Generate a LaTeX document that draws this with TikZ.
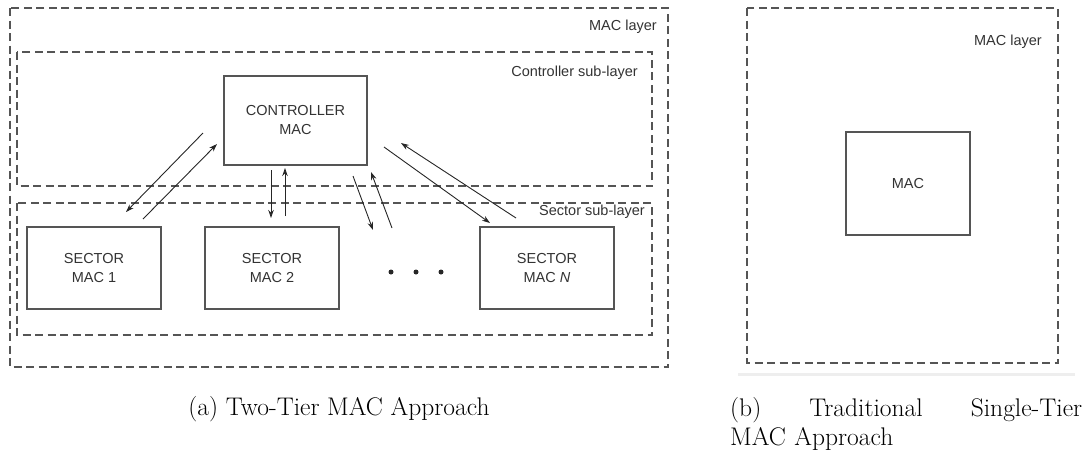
\documentclass[tikz,border=0pt]{standalone}
\usepackage{fontspec}
\setsansfont{Liberation Sans}
\usetikzlibrary{arrows.meta}
\definecolor{linegray}{HTML}{555555}
\definecolor{txtgray}{HTML}{333333}
\definecolor{rulegray}{HTML}{EEEEEE}
\tikzset{
  layerbox/.style={draw=linegray, line width=1.4pt, dash pattern=on 8pt off 4.5pt},
  macbox/.style={draw=linegray, line width=1.2pt, fill=white, inner sep=0pt},
  lbl/.style={font=\sffamily\fontsize{14.5}{16}\selectfont, text=txtgray, inner sep=0pt},
  boxtxt/.style={font=\sffamily\fontsize{14.5}{19}\selectfont, text=txtgray, align=center},
  link/.style={draw=black!85, line width=0.9pt, -{Stealth[length=8pt,width=5.5pt]}},
  capt/.style={font=\fontsize{25.5}{29}\selectfont, inner sep=0pt, anchor=base west},
  dotstyle/.style={circle, fill=black!85, inner sep=0pt, minimum size=5pt}
}
\begin{document}
\begin{tikzpicture}[x=1pt,y=-1pt]
\useasboundingbox (0,0) rectangle (1088,451);
% (a) layers
\draw[layerbox] (10,8) rectangle (668,367);
\node[lbl, anchor=east] (maclayerA) at (657,27) {MAC layer};
\draw[layerbox] (17,52) rectangle (652,186);
\node[lbl, anchor=east] (ctrllayer) at (638,73) {Controller sub-layer};
\draw[layerbox] (17,203) rectangle (652,335);
\node[lbl, anchor=east] (seclayer) at (645,212) {Sector sub-layer};
% boxes
\node[macbox, minimum width=143pt, minimum height=89pt] (ctrl) at (295.5,120.5) {};
\node[boxtxt] at (ctrl.center) {CONTROLLER\\MAC};
\node[macbox, minimum width=134pt, minimum height=82pt] (s1) at (94,268) {};
\node[boxtxt] at (s1.center) {SECTOR\\MAC 1};
\node[macbox, minimum width=134pt, minimum height=82pt] (s2) at (272,268) {};
\node[boxtxt] at (s2.center) {SECTOR\\MAC 2};
\node[macbox, minimum width=134pt, minimum height=82pt] (sN) at (547,268) {};
\node[boxtxt] at (sN.center) {SECTOR\\MAC \textit{N}};
\node[dotstyle] (d1) at (391,272) {};
\node[dotstyle] (d2) at (416,272) {};
\node[dotstyle] (d3) at (441,272) {};
% arrow end coordinates
\coordinate (a1s) at (203,133); \coordinate (a1e) at (126,212);
\coordinate (a2s) at (143,219); \coordinate (a2e) at (217,144);
\coordinate (a3s) at (271,170); \coordinate (a3e) at (271,218);
\coordinate (a4s) at (285,216); \coordinate (a4e) at (285,168);
\coordinate (a5s) at (353,176); \coordinate (a5e) at (373,230);
\coordinate (a6s) at (392,228); \coordinate (a6e) at (371,172);
\coordinate (a7s) at (384,147); \coordinate (a7e) at (490,223);
\coordinate (a8s) at (516,218); \coordinate (a8e) at (401,143);
\draw[link] (a1s) -- (a1e);
\draw[link] (a2s) -- (a2e);
\draw[link] (a3s) -- (a3e);
\draw[link] (a4s) -- (a4e);
\draw[link] (a5s) -- (a5e);
\draw[link] (a6s) -- (a6e);
\draw[link] (a7s) -- (a7e);
\draw[link] (a8s) -- (a8e);
% (b)
\draw[layerbox] (747,8) rectangle (1058,363);
\node[lbl, anchor=east] (maclayerB) at (1042,42) {MAC layer};
\node[macbox, minimum width=124pt, minimum height=103pt] (mac) at (908,183.5) {};
\node[lbl] at (mac.center) {MAC};
\draw[rulegray, line width=3pt] (738,374) -- (1075,374);
% captions
\node[capt, anchor=base] (capA) at (339,415) {(a) Two-Tier MAC Approach};
\node[capt, text width=352pt, align=left] (capB) at (730,416) {(b)\hfill Traditional\hfill Single-Tier\\MAC Approach};
\end{tikzpicture}
\end{document}
